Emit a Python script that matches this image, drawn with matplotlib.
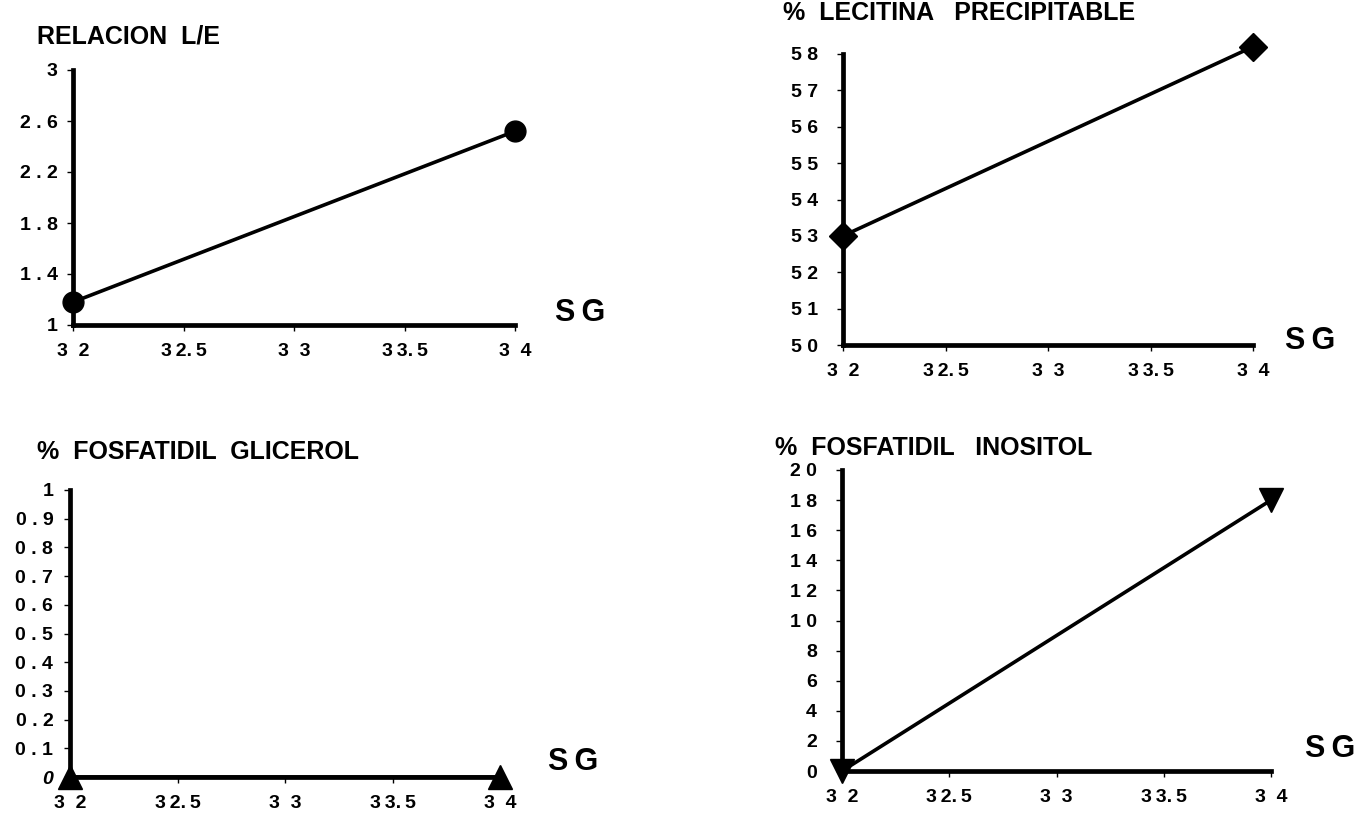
import matplotlib
matplotlib.use("Agg")
import matplotlib.pyplot as plt

plt.rcParams['font.family'] = ['Liberation Sans', 'DejaVu Sans']
plt.rcParams['font.weight'] = 'bold'

TS = "\u2009"  # thin space used to open up the digit spacing

# Gestational weeks (SG) and the measured values at each end
sg = [32, 34]
relacion_le = [1.18, 2.52]
lecitina = [53, 58.2]
fosf_glicerol = [0, 0]
fosf_inositol = [0, 18]

x_ticks = [32, 32.5, 33, 33.5, 34]
x_labels = ["3  2", "3" + TS + "2." + TS + "5", "3  3", "3" + TS + "3." + TS + "5", "3  4"]

le_ticks = [1, 1.4, 1.8, 2.2, 2.6, 3]
le_labels = ["1", "1 . 4", "1 . 8", "2 . 2", "2 . 6", "3"]

lec_ticks = [50, 51, 52, 53, 54, 55, 56, 57, 58]
lec_labels = ["5 0", "5 1", "5 2", "5 3", "5 4", "5 5", "5 6", "5 7", "5 8"]

pg_ticks = [0, 0.1, 0.2, 0.3, 0.4, 0.5, 0.6, 0.7, 0.8, 0.9, 1]
pg_labels = ["0", "0 . 1", "0 . 2", "0 . 3", "0 . 4", "0 . 5",
             "0 . 6", "0 . 7", "0 . 8", "0 . 9", "1"]

pi_ticks = [0, 2, 4, 6, 8, 10, 12, 14, 16, 18, 20]
pi_labels = ["0", "2", "4", "6", "8", "1 0", "1 2", "1 4", "1 6", "1 8", "2 0"]

W, H = 1363, 815
fig = plt.figure(figsize=(W / 100, H / 100), dpi=100)


def px_axes(x0, x1, y_bottom, y_top):
    return fig.add_axes([x0 / W, 1 - y_bottom / H, (x1 - x0) / W,
                         (y_bottom - y_top) / H])


def style(ax, ylim, yticks, ylabels, ypad):
    ax.set_xlim(32, 34)
    ax.set_ylim(*ylim)
    for s in ("top", "right"):
        ax.spines[s].set_visible(False)
    for s in ("left", "bottom"):
        ax.spines[s].set_linewidth(3.4)
        ax.spines[s].set_color("black")
        ax.spines[s].set_capstyle("projecting")
    ax.set_xticks(x_ticks)
    ax.set_xticklabels(x_labels)
    ax.set_yticks(yticks)
    ax.set_yticklabels(ylabels)
    ax.tick_params(axis="both", direction="out", length=4, width=1,
                   labelsize=14, colors="black")
    ax.tick_params(axis="x", pad=9)
    ax.tick_params(axis="y", pad=ypad)
    for lab in ax.get_xticklabels() + ax.get_yticklabels():
        lab.set_fontweight("bold")
    ax.set_facecolor("white")


line_kw = dict(color="black", lw=2.6, clip_on=False, zorder=5)

# Relación L/E
ax1 = px_axes(73, 515, 325, 70)
style(ax1, (1, 3), le_ticks, le_labels, 7)
ax1.plot(sg, relacion_le, marker="o", ms=15, **line_kw)

# % Lecitina precipitable
ax2 = px_axes(843, 1253, 345, 54)
style(ax2, (50, 58), lec_ticks, lec_labels, 14)
ax2.plot(sg, lecitina, marker="D", ms=14, **line_kw)

# % Fosfatidil glicerol
ax3 = px_axes(70, 500, 777, 490)
style(ax3, (0, 1), pg_ticks, pg_labels, 8)
ax3.plot(sg, fosf_glicerol, marker="^", ms=17, **line_kw)
ax3.get_yticklabels()[0].set_fontstyle("italic")

# % Fosfatidil inositol
ax4 = px_axes(842, 1271, 771, 470)
style(ax4, (0, 20), pi_ticks, pi_labels, 14)
ax4.plot(sg, fosf_inositol, marker="v", ms=17, **line_kw)

title_kw = dict(fontsize=18, fontweight="bold", ha="left", va="center")
fig.text(37 / W, 1 - 37 / H, "RELACION  L/E", **title_kw)
fig.text(783 / W, 1 - 13 / H, "%  LECITINA   PRECIPITABLE", **title_kw)
fig.text(37 / W, 1 - 452 / H, "%  FOSFATIDIL  GLICEROL", **title_kw)
fig.text(775 / W, 1 - 448 / H, "%  FOSFATIDIL   INOSITOL", **title_kw)

sg_kw = dict(fontsize=22, fontweight="bold", ha="left", va="center")
sg_text = "S" + TS + "G"
fig.text(555 / W, 1 - 313 / H, sg_text, **sg_kw)
fig.text(1285 / W, 1 - 341 / H, sg_text, **sg_kw)
fig.text(548 / W, 1 - 762 / H, sg_text, **sg_kw)
fig.text(1305 / W, 1 - 749 / H, sg_text, **sg_kw)

fig.savefig("out.png", dpi=100, facecolor="white")
